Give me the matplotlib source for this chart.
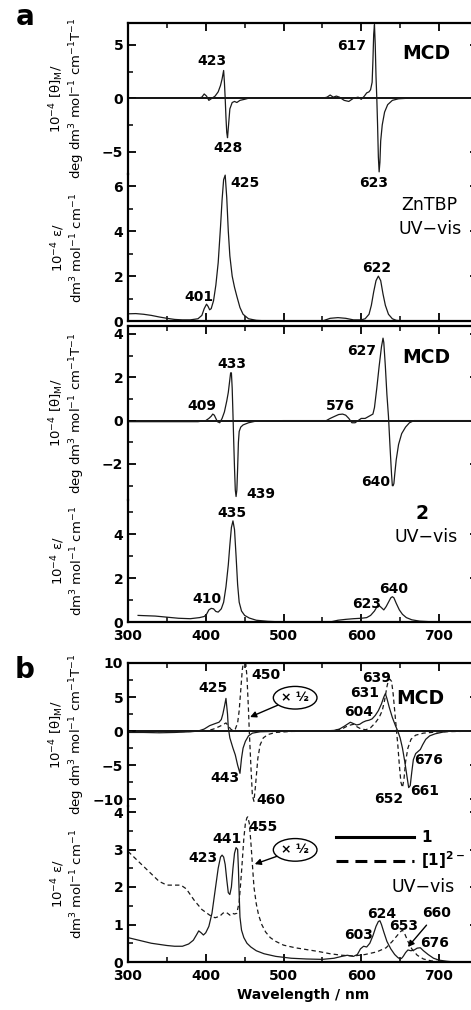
import matplotlib
matplotlib.use("Agg")
import matplotlib.pyplot as plt
from matplotlib.lines import Line2D
from matplotlib.ticker import MultipleLocator

plt.rcParams.update({
    "font.family": "DejaVu Sans",
    "font.size": 10,
    "font.weight": "bold",
    "mathtext.default": "regular",
    "axes.linewidth": 1.6,
    "xtick.direction": "in",
    "ytick.direction": "in",
    "xtick.major.size": 6, "xtick.minor.size": 3.5,
    "ytick.major.size": 6, "ytick.minor.size": 3.5,
    "xtick.major.width": 1.3, "xtick.minor.width": 1.1,
    "ytick.major.width": 1.3, "ytick.minor.width": 1.1,
    "xtick.major.pad": 5,
})

# ---------------------------------------------------------------- data
# (a) ZnTBP  MCD
znt_mcd_wl = [300, 330, 360, 390, 395, 398, 401, 404, 408, 412, 416, 419, 421, 423, 424,
              425, 426, 427, 428, 429, 431, 434, 437, 440, 444, 450, 455, 500, 550, 556,
              560, 564, 568, 572, 578, 584, 590, 596, 600, 604, 607, 610, 612, 614, 615,
              616, 617, 618, 619, 620, 621, 622, 623, 624, 625, 627, 630, 634, 640, 648,
              660, 750]
znt_mcd = [0, 0, 0, 0, 0.1, 0.4, 0.2, -0.2, 0, 0.2, 0.6, 1.2, 1.8, 2.6, 1.5,
           0, -1.8, -3.2, -3.7, -2.8, -1.0, -0.4, -0.3, -0.4, -0.2, -0.1, 0, 0, 0, 0.1,
           0.3, 0.1, 0.2, 0.1, -0.2, -0.3, 0, 0.1, -0.1, 0.2, 0.5, 0.6, 0.8, 1.5, 3.5,
           6.0, 6.9, 5.0, 2.0, 0, -2.5, -5.5, -6.9, -6.0, -4.0, -2.5, -1.3, -0.6, -0.2, -0.05,
           0, 0]

# (a) ZnTBP  UV-vis
znt_uv_wl = [300, 310, 320, 330, 340, 350, 360, 370, 380, 390, 395, 398, 401, 403, 405,
             407, 410, 413, 416, 419, 421, 423, 425, 427, 429, 431, 434, 437, 440, 444,
             448, 455, 465, 480, 550, 560, 570, 580, 590, 600, 605, 610, 613, 616, 619,
             622, 625, 628, 631, 635, 640, 645, 655, 750]
znt_uv = [0.32, 0.33, 0.3, 0.25, 0.18, 0.12, 0.07, 0.05, 0.05, 0.1, 0.25, 0.55, 0.75, 0.65, 0.5,
          0.55, 0.9, 1.6, 2.6, 4.2, 5.4, 6.3, 6.5, 5.5, 4.0, 2.9, 2.0, 1.5, 1.1, 0.6,
          0.3, 0.1, 0.03, 0, 0, 0.12, 0.15, 0.12, 0.05, 0.05, 0.1, 0.3, 0.7, 1.3, 1.8,
          2.0, 1.8, 1.2, 0.7, 0.3, 0.1, 0.03, 0, 0]

# (a) compound 2  MCD
c2_mcd_wl = [300, 350, 390, 400, 404, 407, 409, 411, 413, 415, 418, 421, 424, 427, 429,
             431, 432, 433, 434, 435, 436, 437, 438, 439, 440, 441, 442, 443, 445, 448,
             455, 465, 500, 555, 560, 566, 571, 576, 580, 584, 588, 592, 596, 600, 605,
             610, 615, 617, 620, 623, 626, 628, 629, 631, 633, 635, 637, 639, 640, 641,
             642, 643, 645, 648, 652, 657, 662, 668, 750]
c2_mcd = [-0.05, -0.05, -0.05, 0, 0.1, 0.2, 0.3, 0.25, 0.1, -0.05, -0.1, 0.1, 0.4, 0.9, 1.3,
          1.9, 2.2, 2.2, 1.5, 0.3, -1.0, -2.2, -3.2, -3.5, -3.2, -2.2, -1.0, -0.5, -0.3, -0.2,
          -0.1, -0.02, 0, 0, 0.1, 0.2, 0.28, 0.3, 0.25, 0.1, -0.1, -0.1, 0, 0.1, 0.1,
          0.2, 0.3, 0.6, 1.5, 2.5, 3.4, 3.8, 3.6, 2.5, 1.2, 0.2, -1.2, -2.5, -3.0, -3.0,
          -2.9, -2.5, -1.8, -1.1, -0.6, -0.3, -0.1, 0, 0]

# (a) compound 2  UV-vis
c2_uv_wl = [313, 320, 335, 350, 365, 380, 392, 398, 401, 404, 407, 410, 413, 416, 420,
            423, 426, 429, 431, 433, 435, 437, 439, 441, 443, 446, 450, 456, 465, 480,
            500, 560, 570, 580, 590, 600, 607, 612, 617, 620, 623, 626, 629, 632, 635,
            638, 640, 642, 645, 649, 653, 658, 665, 675, 690, 750]
c2_uv = [0.3, 0.29, 0.27, 0.22, 0.17, 0.15, 0.2, 0.25, 0.35, 0.55, 0.62, 0.6, 0.48, 0.45, 0.6,
         0.9, 1.6, 2.6, 3.5, 4.3, 4.6, 4.2, 3.0, 1.7, 0.9, 0.5, 0.3, 0.18, 0.08, 0.03,
         0, 0, 0.08, 0.12, 0.15, 0.17, 0.2, 0.3, 0.5, 0.68, 0.75, 0.65, 0.55, 0.7, 0.9,
         1.1, 1.15, 1.1, 0.85, 0.55, 0.35, 0.2, 0.1, 0.04, 0.01, 0]

# (b) compound 1  MCD
c1_mcd_wl = [300, 320, 340, 360, 380, 390, 398, 405, 412, 417, 420, 422, 424, 426, 428,
             429, 431, 435, 438, 441, 444, 446, 448, 451, 455, 460, 470, 485, 520, 550,
             565, 572, 578, 582, 586, 590, 594, 598, 602, 606, 610, 614, 618, 622, 626,
             629, 631, 633, 636, 640, 644, 647, 650, 653, 656, 659, 661, 663, 665, 667,
             670, 673, 676, 679, 683, 688, 695, 705, 715, 750]
c1_mcd = [-0.2, -0.2, -0.25, -0.2, -0.1, 0, 0.3, 0.8, 1.1, 1.3, 1.7, 2.5, 3.6, 4.8, 2.5,
          0.5, -1.0, -2.5, -3.5, -5.0, -6.2, -4.0, -2.5, -1.5, -0.7, -0.3, -0.1, -0.05, 0, 0,
          0.1, 0.3, 0.7, 1.0, 1.3, 1.1, 0.9, 1.0, 1.3, 1.5, 1.6, 1.8, 2.3, 3.0, 4.0,
          5.0, 5.5, 4.8, 3.5, 2.0, 0.8, 0.0, -1.0, -2.5, -4.5, -6.8, -8.3, -8.0, -6.0, -4.2,
          -3.3, -3.0, -2.7, -2.0, -1.2, -0.7, -0.4, -0.15, 0, 0]

# (b) [1]2-  MCD (x 1/2)
c1r_mcd_wl = [300, 340, 380, 400, 410, 418, 423, 426, 429, 432, 435, 438, 441, 443, 445,
              447, 449, 451, 453, 455, 456, 458, 460, 462, 464, 467, 470, 474, 480, 490,
              510, 560, 575, 583, 590, 595, 600, 606, 612, 618, 623, 627, 630, 633, 635,
              637, 639, 641, 643, 645, 647, 649, 651, 653, 655, 657, 660, 664, 670, 680,
              700, 750]
c1r_mcd = [-0.1, -0.1, -0.05, 0, 0.3, 0.7, 1.0, 1.2, 0.8, 0.3, 0.1, 0.3, 1.2, 3, 6,
           9, 10.5, 10.5, 8, 3, 0, -5, -9.5, -10.3, -8, -4, -2, -1, -0.5, -0.2,
           -0.05, 0, 0.3, 0.8, 1.0, 0.6, 0.3, 0.2, 0.5, 1.2, 2.0, 3.0, 4.5, 6.5, 7.5,
           7.6, 7.3, 5.5, 3.0, 0.5, -2, -5, -7.5, -8.3, -7.0, -4.5, -2.5, -1.2, -0.6, -0.3,
           -0.1, 0]

# (b) compound 1  UV-vis
c1_uv_wl = [300, 310, 320, 330, 340, 350, 360, 370, 378, 384, 388, 391, 394, 397, 400,
            404, 408, 412, 416, 419, 421, 423, 425, 427, 429, 431, 433, 435, 437, 439,
            441, 442, 443, 444, 446, 449, 453, 458, 465, 475, 490, 510, 530, 550, 565,
            575, 582, 590, 595, 599, 603, 607, 611, 615, 619, 622, 624, 626, 629, 633,
            638, 643, 647, 650, 652, 654, 657, 660, 664, 668, 672, 676, 680, 686, 693,
            700, 710, 720]
c1_uv = [0.65, 0.6, 0.55, 0.5, 0.47, 0.44, 0.42, 0.42, 0.48, 0.58, 0.72, 0.83, 0.78, 0.72, 0.78,
         0.95, 1.3, 1.9, 2.5, 2.8, 2.85, 2.8, 2.6, 2.2, 1.85, 1.8, 2.0, 2.5, 2.9, 3.05,
         3.0, 2.5, 1.8, 1.2, 0.85, 0.65, 0.5, 0.4, 0.3, 0.22, 0.15, 0.1, 0.08, 0.07, 0.1,
         0.15, 0.18, 0.15, 0.2, 0.35, 0.42, 0.4, 0.5, 0.7, 0.95, 1.08, 1.1, 1.0, 0.8, 0.55,
         0.35, 0.2, 0.12, 0.08, 0.1, 0.15, 0.25, 0.32, 0.3, 0.32, 0.37, 0.38, 0.3, 0.2, 0.1,
         0.05, 0.02, 0]

# (b) [1]2-  UV-vis (x 1/2 near 455)
c1r_uv_wl = [300, 310, 320, 330, 340, 350, 360, 368, 375, 385, 395, 405, 412, 418, 422,
             425, 428, 431, 434, 437, 440, 443, 446, 449, 451, 453, 454, 456, 458, 460,
             462, 465, 468, 472, 477, 483, 490, 500, 515, 530, 545, 560, 575, 590, 605,
             620, 632, 640, 646, 650, 653, 656, 660, 665, 672, 680, 690, 700, 710]
c1r_uv = [2.95, 2.75, 2.55, 2.35, 2.15, 2.05, 2.05, 2.05, 1.95, 1.65, 1.4, 1.25, 1.18, 1.22, 1.3,
          1.33, 1.3, 1.25, 1.3, 1.28, 1.3, 1.6, 2.4, 3.3, 3.7, 3.85, 3.87, 3.7, 3.2, 2.6,
          2.0, 1.55, 1.25, 1.0, 0.8, 0.65, 0.55, 0.45, 0.38, 0.33, 0.28, 0.22, 0.18, 0.16, 0.2,
          0.27, 0.38, 0.55, 0.7, 0.8, 0.85, 0.75, 0.55, 0.35, 0.18, 0.08, 0.03, 0.01, 0]

MCD_LABEL = "10$^{-4}$ [θ]$_M$/\ndeg dm$^3$ mol$^{-1}$ cm$^{-1}$T$^{-1}$"
UV_LABEL = "10$^{-4}$ ε/\ndm$^3$ mol$^{-1}$ cm$^{-1}$"

# ---------------------------------------------------------------- layout
W, H = 471, 1010
LEFT_PX, PX_PER_NM = 128, 0.7775
fig = plt.figure(figsize=(W / 100, H / 100), dpi=100)

LINE = dict(color="#1a1a1a", lw=0.9)
DASH = dict(color="#1a1a1a", lw=0.9, ls=(0, (3.5, 2.5)))
BIG = 13.5


def box(top_px, bot_px):
    return [LEFT_PX / W, 1 - bot_px / H, 450 * PX_PER_NM / W, (bot_px - top_px) / H]


def style(ax, ylim, major, minor, is_top, xlabels=False):
    ax.set_xlim(300, 750)
    ax.set_ylim(*ylim)
    ax.patch.set_visible(False)
    ax.xaxis.set_major_locator(MultipleLocator(100))
    ax.xaxis.set_minor_locator(MultipleLocator(50))
    ax.yaxis.set_major_locator(MultipleLocator(major))
    ax.yaxis.set_minor_locator(MultipleLocator(minor))
    ax.tick_params(axis="y", which="both", left=True, right=True)
    if is_top:
        ax.spines["bottom"].set_visible(False)
        ax.tick_params(axis="x", which="both", top=True, bottom=False, labelbottom=False)
        ax.axhline(0, color="black", lw=1.3)
    else:
        ax.spines["top"].set_visible(False)
        ax.tick_params(axis="x", which="both", top=False, bottom=True, labelbottom=xlabels)


def ylab(ax, text):
    ax.text(-0.174, 0.5, text, transform=ax.transAxes, rotation=90, ha="center",
            va="center", fontsize=9.5, fontweight="normal", linespacing=1.15)


def num(ax, x, y, s, size=10):
    ax.text(x, y, s, ha="center", va="center", fontsize=size, fontweight="bold")


def plain(ax, x, y, s):
    ax.text(x, y, s, ha="center", va="center", fontsize=12.5, fontweight="normal")


# ---- (a) ZnTBP
ax1m = fig.add_axes(box(23, 174))
ax1u = fig.add_axes(box(174, 321))
style(ax1m, (-7.1, 7.05), 5, 2.5, True)
style(ax1u, (0, 6.55), 2, 1, False)
ax1m.plot(znt_mcd_wl, znt_mcd, **LINE)
ax1u.plot(znt_uv_wl, znt_uv, **LINE)
ylab(ax1m, MCD_LABEL)
ylab(ax1u, UV_LABEL)
for x, y, s in [(408, 3.5, "423"), (429, -4.65, "428"), (587, 4.85, "617"), (615.5, -7.93, "623")]:
    num(ax1m, x, y, s)
num(ax1m, 684, 4.2, "MCD", BIG)
for x, y, s in [(451, 6.16, "425"), (391.3, 1.08, "401"), (620, 2.34, "622")]:
    num(ax1u, x, y, s)
plain(ax1u, 688, 5.16, "ZnTBP")
plain(ax1u, 688, 4.08, "UV\u2212vis")

# ---- (a) compound 2
ax2m = fig.add_axes(box(326, 500))
ax2u = fig.add_axes(box(500, 622))
style(ax2m, (-3.66, 4.36), 2, 1, True)
style(ax2u, (0, 5.55), 2, 1, False, xlabels=True)
ax2m.plot(c2_mcd_wl, c2_mcd, **LINE)
ax2u.plot(c2_uv_wl, c2_uv, **LINE)
ylab(ax2m, MCD_LABEL)
ylab(ax2u, UV_LABEL)
for x, y, s in [(394.7, 0.68, "409"), (434, 2.6, "433"), (470.5, -3.39, "439"),
                (572.7, 0.65, "576"), (600.5, 3.23, "627"), (618, -2.85, "640")]:
    num(ax2m, x, y, s)
num(ax2m, 684, 2.93, "MCD", BIG)
for x, y, s in [(433.3, 4.95, "435"), (401.2, 1.06, "410"), (607, 0.83, "623"), (641, 1.51, "640")]:
    num(ax2u, x, y, s)
num(ax2u, 678, 4.95, "2", BIG)
plain(ax2u, 684, 3.86, "UV\u2212vis")

# ---- (b) compound 1 and [1]2-
ax3m = fig.add_axes(box(663, 806))
ax3u = fig.add_axes(box(806, 962))
style(ax3m, (-11.0, 10.0), 5, 2.5, True)
style(ax3u, (0, 4.16), 1, 0.5, False, xlabels=True)
ax3m.plot(c1_mcd_wl, c1_mcd, **LINE)
ax3m.plot(c1r_mcd_wl, c1r_mcd, **DASH)
ax3u.plot(c1_uv_wl, c1_uv, **LINE)
ax3u.plot(c1r_uv_wl, c1r_uv, **DASH)
ylab(ax3m, MCD_LABEL)
ylab(ax3u, UV_LABEL)
ax3u.set_xlabel("Wavelength / nm", fontsize=10, fontweight="bold", labelpad=4)

for x, y, s in [(409.8, 6.28, "425"), (477, 8.24, "450"), (424.8, -6.87, "443"), (484, -10.1, "460"),
                (620, 7.84, "639"), (604.8, 5.54, "631"), (596.2, 2.84, "604"), (686.3, -4.26, "676"),
                (635.7, -10.0, "652"), (681, -8.8, "661")]:
    num(ax3m, x, y, s)
num(ax3m, 675.6, 4.8, "MCD", BIG)
for x, y, s in [(474, 3.61, "455"), (427, 3.27, "441"), (396.9, 2.76, "423"), (626.3, 1.28, "624"),
                (596.2, 0.72, "603"), (654, 0.96, "653"), (694.9, 0.5, "676")]:
    num(ax3u, x, y, s)
plain(ax3u, 679, 1.99, "UV\u2212vis")

ARROW = dict(arrowstyle="-|>", color="black", lw=1.0, mutation_scale=9, shrinkA=0, shrinkB=0)
ELLIPSE = dict(boxstyle="ellipse,pad=0.12", fc="white", ec="black", lw=1.0)
ax3m.annotate("\u00d7 \u00bd", xy=(457, 2.06), xytext=(515, 4.9), ha="center", va="center",
              fontsize=9, fontweight="bold", bbox=ELLIPSE, arrowprops=ARROW)
ax3u.annotate("\u00d7 \u00bd", xy=(463, 2.61), xytext=(515, 2.99), ha="center", va="center",
              fontsize=9, fontweight="bold", bbox=ELLIPSE, arrowprops=ARROW)
ax3u.annotate("660", xy=(660, 0.4), xytext=(697, 1.3), ha="center", va="center",
              fontsize=10, fontweight="bold", arrowprops=dict(ARROW, shrinkA=2))

handles = [Line2D([], [], color="black", lw=2.2),
           Line2D([], [], color="black", lw=2.2, ls=(0, (3.9, 2.3)))]
ax3u.legend(handles, ["1", "[1]$^{2\u2212}$"], loc="upper left", bbox_to_anchor=(0.594, 0.846),
            frameon=False, handlelength=5.1, handletextpad=0.5, borderpad=0, borderaxespad=0,
            labelspacing=0.3, prop={"weight": "bold", "size": 11})

fig.text(25 / W, 1 - 17 / H, "a", ha="center", va="center", fontsize=20, fontweight="bold")
fig.text(25 / W, 1 - 670 / H, "b", ha="center", va="center", fontsize=20, fontweight="bold")

fig.savefig("out.png", dpi=100)
